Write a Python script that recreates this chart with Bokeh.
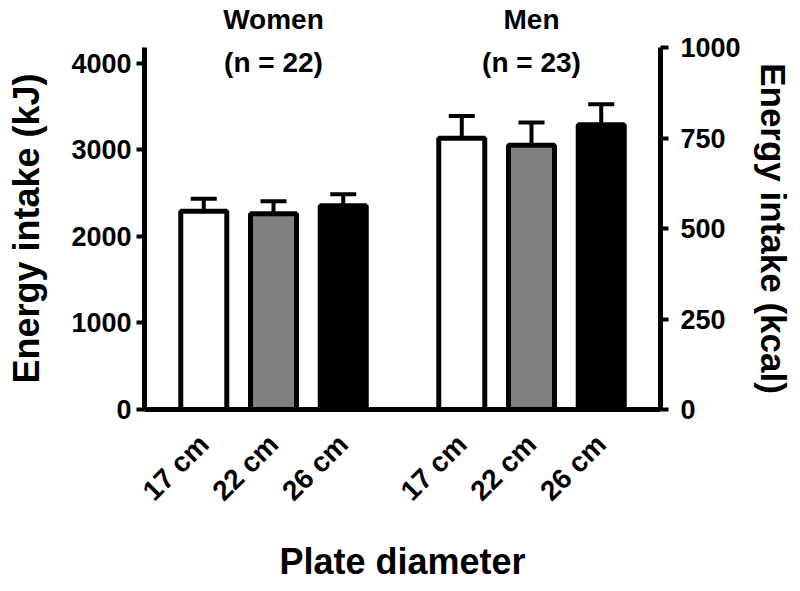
from math import pi
from bokeh.plotting import figure
from bokeh.layouts import column
from bokeh.models import (Range1d, LinearAxis, FixedTicker, ColumnDataSource,
                          Whisker, TeeHead, Label, Title)
from bokeh.core.properties import value
from bokeh.embed import file_html
from bokeh.resources import INLINE

# ---- data ----
groups = ["Women", "Men"]
group_n = [22, 23]
plates = ["17 cm", "22 cm", "26 cm"]
women_mean = [2290, 2263, 2354]
women_sem = [147, 143, 133]
men_mean = [3135, 3053, 3290]
men_sem = [257, 263, 238]
plate_colors = ["#ffffff", "#808080", "#000000"]
kj_ticks = [0, 1000, 2000, 3000, 4000]
kcal_ticks = [0, 250, 500, 750, 1000]
KJ_PER_KCAL = 4.184

FONT = "Liberation Sans"
GROUP_GAP = 0.7     # extra space between the two groups (in bar slots)
EDGE_PAD = 0.35     # space between axes and outer bars (in bar slots)

# bar slot positions built from groups x plates
xs, tops, uppers, colors, labels = [], [], [], [], []
all_means = [women_mean, men_mean]
all_sems = [women_sem, men_sem]
for gi, g in enumerate(groups):
    for pi_, pl in enumerate(plates):
        pos = round(gi * (len(plates) + GROUP_GAP) + pi_, 6)
        xs.append(pos)
        tops.append(all_means[gi][pi_])
        uppers.append(all_means[gi][pi_] + all_sems[gi][pi_])
        colors.append(plate_colors[pi_])
        labels.append(pl)

src = ColumnDataSource(dict(x=xs, top=tops, upper=uppers, color=colors))
mid_x = [xs[gi * len(plates) + 1] for gi in range(len(groups))]

Y_TOP = 1000 * KJ_PER_KCAL  # 1000 kcal expressed in kJ
x_range = Range1d(xs[0] - 0.5 - EDGE_PAD, xs[-1] + 0.5 + EDGE_PAD)

# ---- heading strip (group names) ----
HEAD_H = 34
head = figure(frame_width=516, frame_height=HEAD_H, x_range=x_range,
              y_range=Range1d(0, HEAD_H), output_backend="svg",
              toolbar_location=None, x_axis_location=None,
              y_axis_location=None, min_border=0,
              min_border_left=144, min_border_right=140)
head.outline_line_color = None
head.xgrid.grid_line_color = None
head.ygrid.grid_line_color = None
head.text(x=mid_x, y=[15] * len(groups), text=groups, text_align="center",
          text_baseline="middle", text_font=value(FONT),
          text_font_style="bold", text_font_size="28px", text_color="black")

# ---- main chart ----
p = figure(
    frame_width=516, frame_height=362,
    x_range=x_range, y_range=Range1d(0, Y_TOP),
    output_backend="svg", toolbar_location=None,
    min_border_left=144, min_border_right=140,
    min_border_top=47 - HEAD_H, min_border_bottom=178,
)
p.outline_line_color = None
p.xgrid.grid_line_color = None
p.ygrid.grid_line_color = None
p.background_fill_color = "white"
p.border_fill_color = "white"

p.vbar(x="x", top="top", width=0.66, source=src, fill_color="color",
       line_color="black", line_width=5)

wh = Whisker(base="x", upper="upper", lower="top", source=src,
             line_width=4, line_color="black",
             upper_head=TeeHead(size=26, line_width=4, line_color="black"),
             lower_head=None, level="overlay")
p.add_layout(wh)

# sample sizes under the group names
for gi in range(len(groups)):
    p.add_layout(Label(x=mid_x[gi], y=4016, text=f"(n = {group_n[gi]})",
                       text_align="center", text_baseline="middle",
                       text_font=FONT, text_font_style="bold",
                       text_font_size="28px", text_color="black"))

# left axis (kJ)
ya = p.yaxis[0]
ya.ticker = FixedTicker(ticks=kj_ticks)
ya.axis_label = "Energy intake (kJ)"

# right axis (kcal)
p.extra_y_ranges = {"kcal": Range1d(0, Y_TOP / KJ_PER_KCAL)}
ra = LinearAxis(y_range_name="kcal", ticker=FixedTicker(ticks=kcal_ticks))
p.add_layout(ra, "right")

for ax in (ya, ra):
    ax.axis_line_width = 5
    ax.major_tick_line_width = 4
    ax.major_tick_out = 8
    ax.major_tick_in = 0
    ax.minor_tick_line_color = None
    ax.major_label_text_font = FONT
    ax.major_label_text_font_style = "bold"
    ax.major_label_text_font_size = "27px"
    ax.major_label_text_color = "black"
ya.axis_label_text_font = FONT
ya.axis_label_text_font_style = "bold"
ya.axis_label_text_font_size = "36px"
ya.axis_label_text_color = "black"
ya.major_label_standoff = 5
ya.axis_label_standoff = 21
ra.major_label_standoff = 12

# right-hand title reading top-to-bottom
rt = Title(text="Energy intake (kcal)", align="center", text_font=FONT,
           text_font_style="bold", text_font_size="35px", text_color="black",
           standoff=20)
p.add_layout(rt, "right")

xa = p.xaxis[0]
xa.ticker = FixedTicker(ticks=xs)
xa.major_label_overrides = {x: lab for x, lab in zip(xs, labels)}
xa.axis_line_width = 5
xa.major_tick_line_color = None
xa.minor_tick_line_color = None
xa.major_label_orientation = pi / 4
xa.major_label_standoff = 24
xa.major_label_text_font = FONT
xa.major_label_text_font_style = "bold"
xa.major_label_text_font_size = "28px"
xa.major_label_text_color = "black"
xa.axis_label = "Plate diameter"
xa.axis_label_text_font = FONT
xa.axis_label_text_font_style = "bold"
xa.axis_label_text_font_size = "36px"
xa.axis_label_text_color = "black"
xa.axis_label_standoff = 20

layout = column(head, p, spacing=0)
open("out.html", "w").write(file_html(layout, INLINE))
